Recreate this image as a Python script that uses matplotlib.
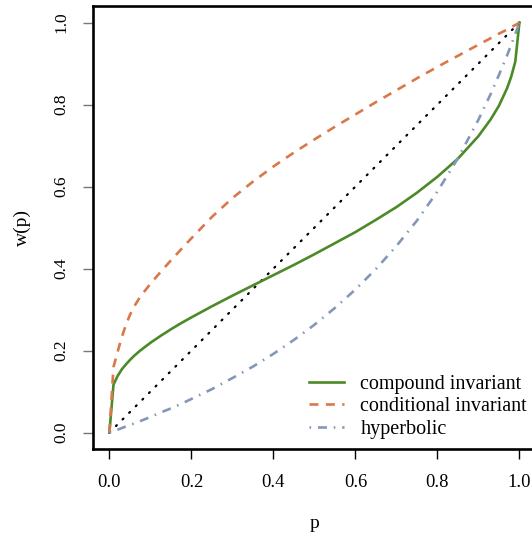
import matplotlib
matplotlib.use('Agg')
import matplotlib.pyplot as plt

# probability grid and weighting function values
p = [0.0, 0.01, 0.02, 0.03, 0.04, 0.05, 0.06, 0.075, 0.1, 0.125, 0.15, 0.175,
     0.2, 0.25, 0.3, 0.35, 0.4, 0.45, 0.5, 0.55, 0.6, 0.65, 0.7, 0.75, 0.8,
     0.85, 0.9, 0.93, 0.95, 0.97, 0.98, 0.99, 1.0]
compound = [0.0, 0.117, 0.138, 0.154, 0.166, 0.177, 0.187, 0.200, 0.219, 0.236,
            0.252, 0.267, 0.281, 0.308, 0.334, 0.359, 0.384, 0.409, 0.435,
            0.462, 0.489, 0.519, 0.550, 0.585, 0.624, 0.668, 0.723, 0.764,
            0.797, 0.840, 0.868, 0.905, 1.0]
conditional = [0.0, 0.160, 0.197, 0.232, 0.262, 0.287, 0.307, 0.331, 0.363,
               0.392, 0.420, 0.447, 0.474, 0.526, 0.572, 0.612, 0.649, 0.683,
               0.715, 0.746, 0.776, 0.806, 0.835, 0.864, 0.892, 0.919, 0.946,
               0.962, 0.973, 0.983, 0.989, 0.994, 1.0]
hyperbolic = [0.0, 0.004, 0.007, 0.011, 0.015, 0.019, 0.022, 0.028, 0.038,
              0.049, 0.059, 0.070, 0.082, 0.106, 0.133, 0.161, 0.192, 0.226,
              0.263, 0.304, 0.349, 0.399, 0.455, 0.517, 0.588, 0.669, 0.763,
              0.826, 0.872, 0.920, 0.946, 0.972, 1.0]
diag = [0.0, 1.0]

labels = ["compound invariant", "conditional invariant", "hyperbolic"]
ticks = [0.0, 0.2, 0.4, 0.6, 0.8, 1.0]

SERIF = ['Liberation Serif', 'DejaVu Serif']
plt.rcParams['font.family'] = SERIF

fig = plt.figure(figsize=(5.32, 5.38), dpi=100)
ax = fig.add_axes([93 / 532, 89 / 538, 442.8 / 532, 442.8 / 538])

ax.plot(diag, diag, color='black', lw=1.6, linestyle=(0, (0.5, 3.7)),
        dash_capstyle='round')
ax.plot(p, compound, color='#4c8a28', lw=1.9, label=labels[0])
ax.plot(p, conditional, color='#d9784a', lw=1.9, linestyle=(0, (3.4, 2.8)),
        label=labels[1])
ax.plot(p, hyperbolic, color='#8597b8', lw=1.9, linestyle=(0, (0.6, 2.6, 3.4, 2.6)),
        label=labels[2])

ax.set_xlim(-0.04, 1.04)
ax.set_ylim(-0.04, 1.04)
ax.set_xticks(ticks)
ax.set_yticks(ticks)
ax.set_xticklabels([f"{t:.1f}" for t in ticks], fontsize=13.3)
ax.set_yticklabels([f"{t:.1f}" for t in ticks], fontsize=12.5, rotation=90,
                   va='center')
ax.tick_params(axis='x', length=7, width=1.0, color='black', pad=11)
ax.tick_params(axis='y', length=7, width=1.0, color='#777777', pad=10)

for side in ['left', 'bottom', 'top', 'right']:
    ax.spines[side].set_linewidth(1.9)

fig.text(315 / 532, 1 - 524 / 538, "p", fontsize=14, ha='center', va='center')
fig.text(22 / 532, 1 - 228 / 538, "w(p)", fontsize=14, ha='center', va='center',
         rotation=90)

ax.legend(loc='lower right', frameon=False, fontsize=14.5,
          handlelength=1.75, handletextpad=0.8, labelspacing=0.18,
          borderaxespad=0.0, borderpad=0.0)
leg = ax.get_legend()
leg.set_bbox_to_anchor((527 / 532, 1 - 439 / 538), transform=fig.transFigure)

fig.savefig('out.png', dpi=100)
